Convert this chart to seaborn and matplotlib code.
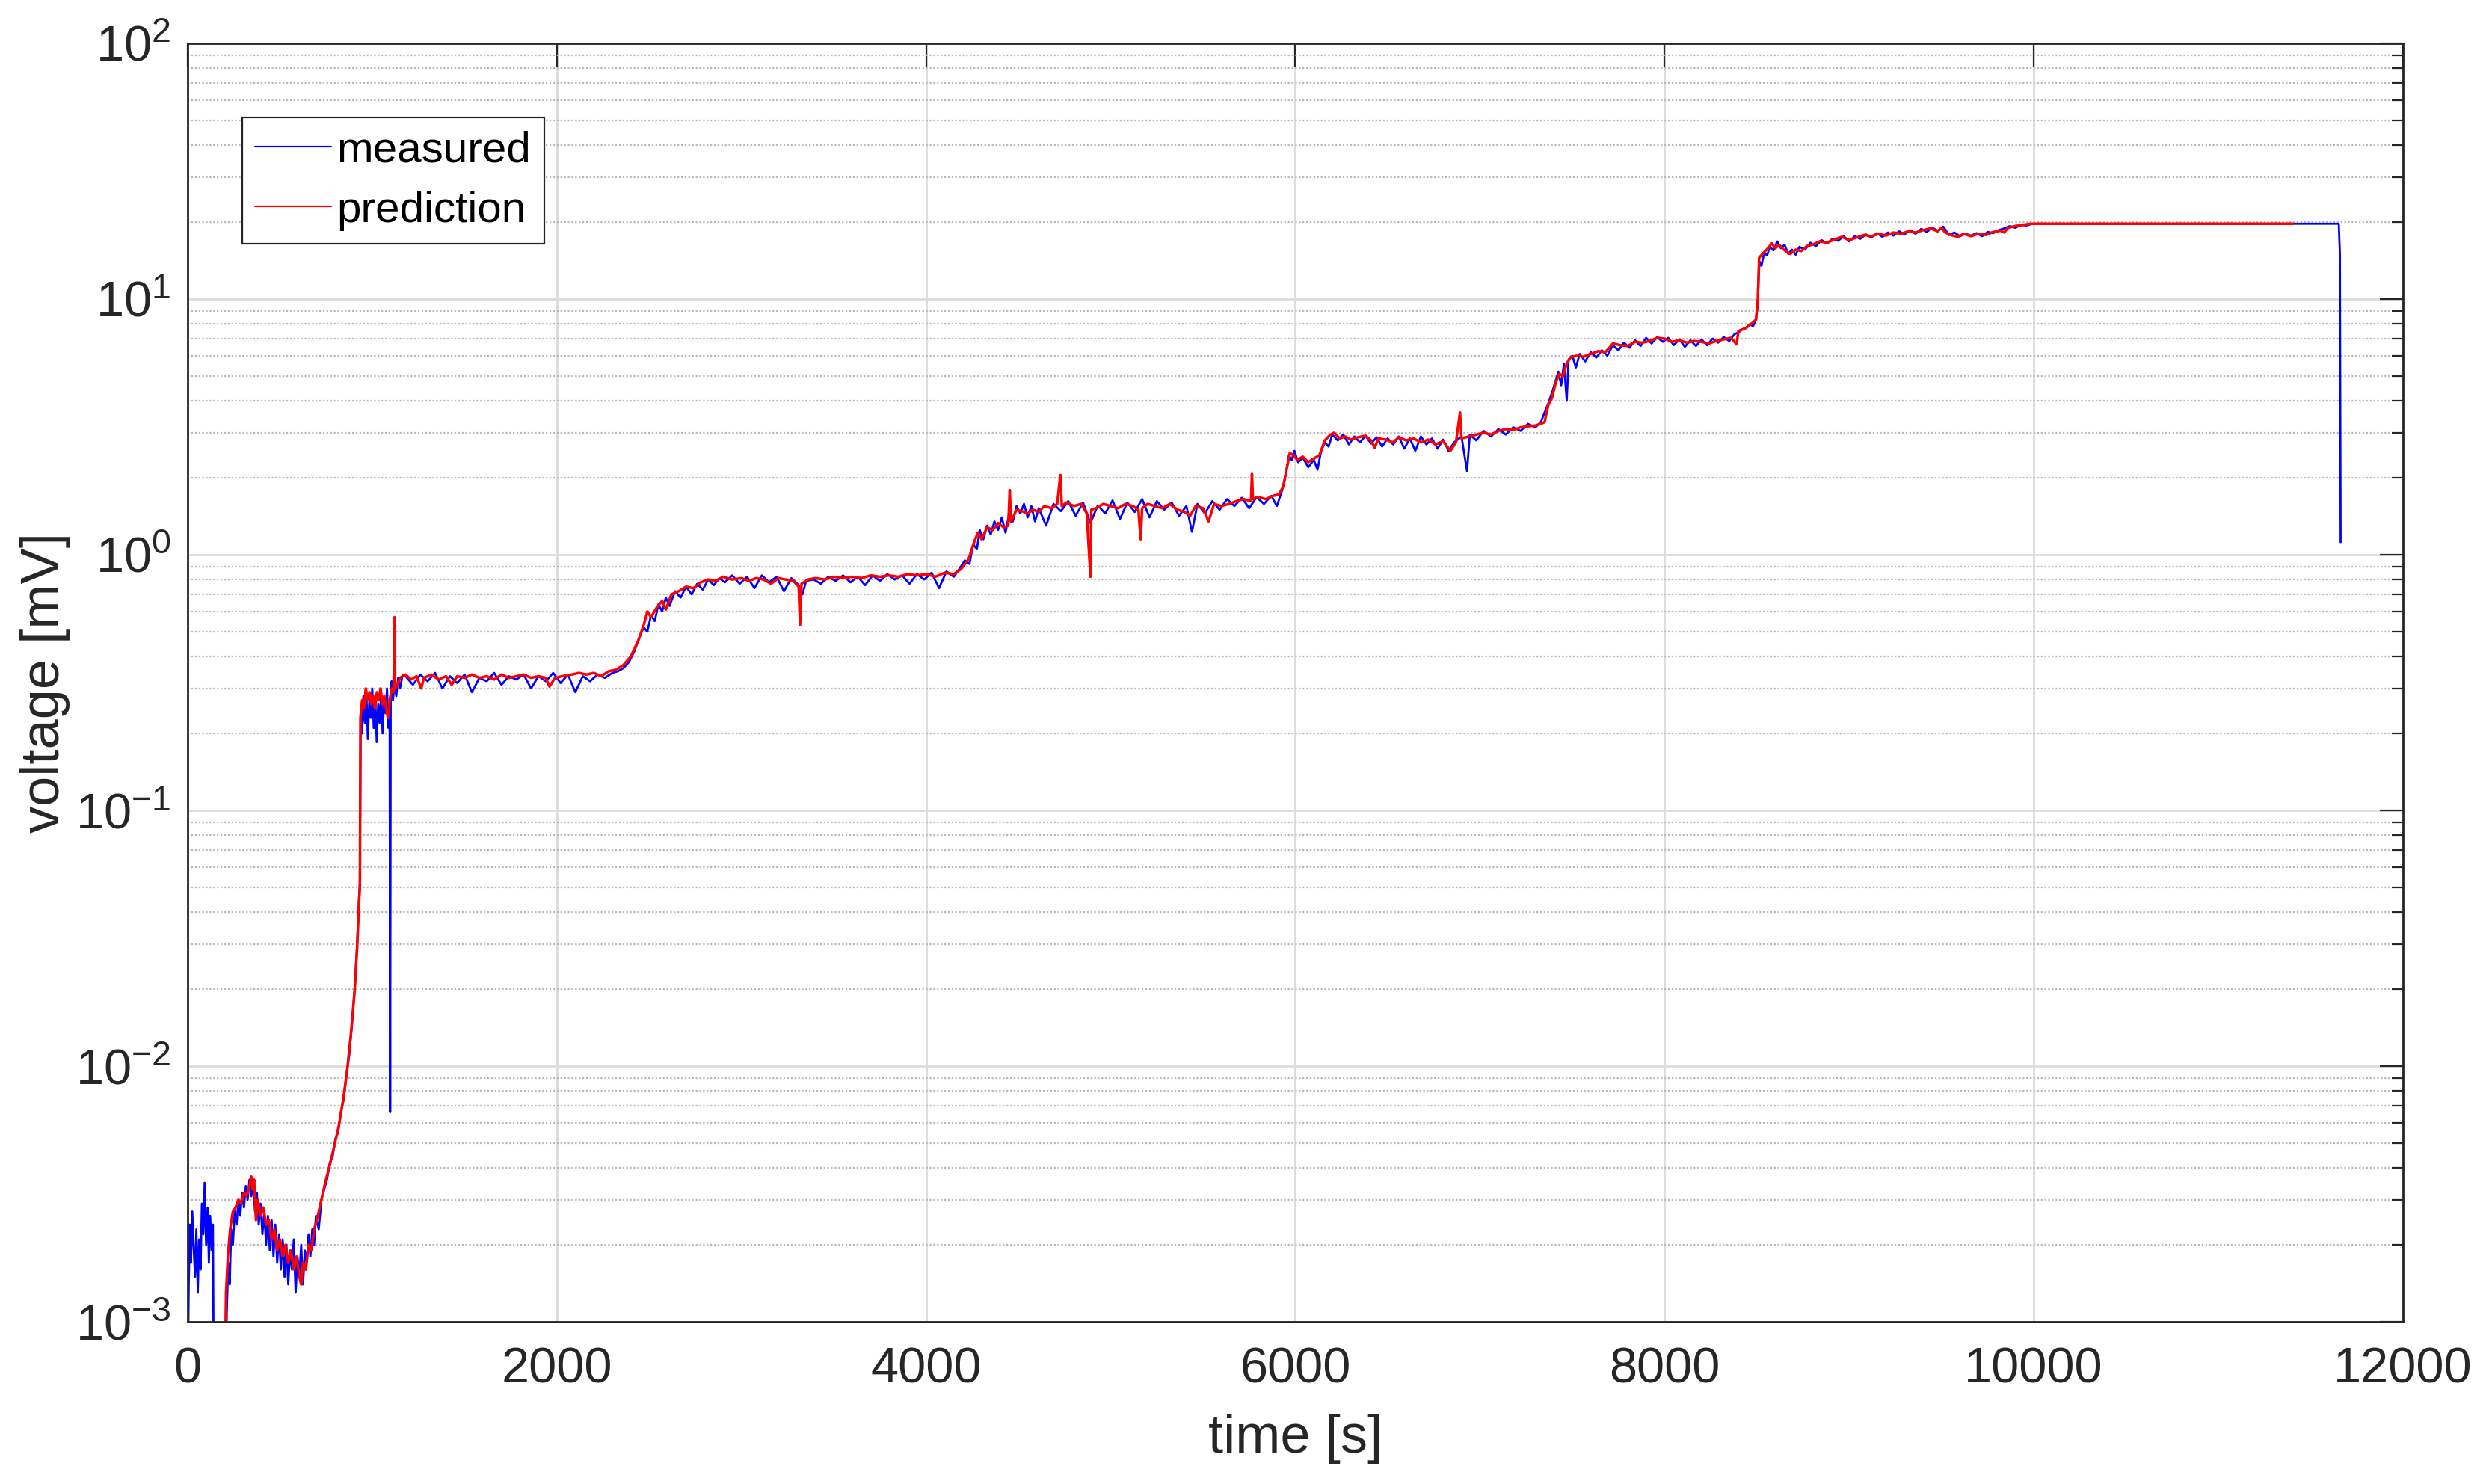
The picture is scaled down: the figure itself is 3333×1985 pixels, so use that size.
import matplotlib
matplotlib.use("Agg")
import matplotlib.pyplot as plt
from matplotlib.ticker import LogLocator, NullFormatter
import seaborn as sns
import pandas as pd

# measured voltage [mV] vs time [s]
measured_time = [
    0, 6, 12, 18, 25, 32, 40, 47, 55, 62, 70, 77, 85, 92, 100, 108, 115, 122, 130, 137, 142,
    205, 212, 220, 228, 236, 245, 255, 265, 275, 285, 295, 305, 315, 325, 335, 345, 355, 365,
    375, 385, 395, 405, 415, 425, 435, 445, 455, 465, 475, 485, 495, 505, 515, 525, 535, 545,
    555, 565, 575, 585, 595, 605, 615, 625, 635, 645, 655, 665, 675, 685, 695, 710, 725, 740,
    755, 770, 785, 800, 815, 830, 845, 860, 875, 890, 905, 918, 928, 933,
    937, 945, 952, 960, 968, 976, 984, 992, 1000, 1008, 1016, 1024, 1032, 1040, 1048, 1056,
    1064, 1072, 1080, 1088, 1094, 1097, 1100, 1105, 1112, 1120, 1130, 1140, 1150, 1165,
    1180, 1220, 1260, 1300, 1340, 1380, 1420, 1460, 1500, 1540, 1580, 1620, 1660, 1700,
    1740, 1780, 1820, 1860, 1900, 1940, 1980, 2020, 2060, 2100, 2140, 2180, 2220, 2260,
    2300, 2330, 2360, 2390, 2420, 2445, 2470, 2490, 2510, 2530, 2550, 2570, 2590, 2610,
    2640, 2670, 2700, 2730, 2760, 2790, 2820, 2850, 2880, 2910,
    2950, 2990, 3030, 3070, 3110, 3150, 3190, 3230, 3270, 3310, 3330, 3350, 3390, 3430,
    3470, 3510, 3550, 3590, 3630, 3670, 3710, 3750, 3790, 3830, 3870, 3910, 3950, 3990,
    4030, 4070, 4110, 4150,
    4180, 4210, 4235, 4255, 4275, 4290, 4310, 4330, 4350, 4370, 4390, 4410, 4430, 4450,
    4470, 4490, 4510, 4530, 4550, 4570, 4590,
    4610, 4650, 4690, 4730, 4770, 4810, 4850, 4890, 4930, 4970, 5010, 5050, 5090, 5130,
    5170, 5210, 5250, 5290, 5330, 5370, 5410, 5440, 5470, 5510, 5550, 5590, 5630, 5670,
    5710, 5750, 5790, 5830, 5870, 5900,
    5930, 5950, 5965, 5980, 5995, 6015, 6040, 6070, 6100, 6120, 6140, 6160, 6180, 6200,
    6230, 6260, 6290, 6320, 6350, 6380, 6410, 6440, 6470, 6500, 6530, 6560, 6590, 6620,
    6650, 6680, 6710, 6740, 6770, 6800, 6830, 6860, 6900, 6930, 6945, 6980, 7020, 7060,
    7100, 7140, 7180, 7220, 7260, 7300, 7330, 7350, 7370, 7390, 7410, 7425, 7440, 7455,
    7470, 7480, 7500, 7520, 7540, 7570, 7600, 7630, 7660, 7690, 7720, 7750, 7780, 7810,
    7840, 7870, 7900, 7930, 7960, 7990, 8020, 8050, 8080, 8110, 8140, 8170, 8200, 8230,
    8260, 8290, 8320, 8350, 8380, 8400, 8420, 8440, 8460, 8480, 8495, 8505, 8510, 8515,
    8525, 8540, 8555, 8570, 8590, 8610, 8630, 8650, 8670, 8690, 8710, 8730, 8760, 8790,
    8820, 8850, 8880, 8910, 8940, 8970, 9000, 9030, 9060, 9090, 9120, 9150, 9180, 9210,
    9240, 9270, 9300, 9330, 9360, 9390, 9420, 9450, 9480, 9510, 9540, 9570, 9600, 9630,
    9660, 9690, 9720, 9750, 9780, 9810, 9840, 9870, 9900, 9930, 9960, 9990, 10020,
    11652, 11658, 11662,
]
measured_mv = [
    0.0005, 0.0014, 0.0024, 0.0017, 0.0027, 0.0020, 0.0015, 0.0023, 0.0013, 0.0021, 0.0016,
    0.0029, 0.0022, 0.0035, 0.0020, 0.0028, 0.0017, 0.0026, 0.0019, 0.0024, 0.0005,
    0.0005, 0.0011, 0.0017, 0.0014, 0.0023, 0.0020, 0.0027, 0.0024, 0.0030, 0.0026, 0.0032,
    0.0028, 0.0034, 0.0030, 0.0036, 0.0031, 0.0035, 0.0027, 0.0032, 0.0024, 0.0029, 0.0022,
    0.0027, 0.0020, 0.0026, 0.0019, 0.0025, 0.0018, 0.0024, 0.0017, 0.0022, 0.0016, 0.0021,
    0.0015, 0.0020, 0.0014, 0.0019, 0.0016, 0.0021, 0.0013, 0.0018, 0.0015, 0.0020, 0.0014,
    0.0019, 0.0017, 0.0022, 0.0018, 0.0023, 0.0020, 0.0026, 0.0023, 0.0030, 0.0033, 0.0036,
    0.0042, 0.0044, 0.0052, 0.0055, 0.0066, 0.0074, 0.0092, 0.0110, 0.0145, 0.020, 0.030,
    0.045, 0.052,
    0.24, 0.20, 0.28, 0.22, 0.29, 0.19, 0.27, 0.23, 0.30, 0.21, 0.28, 0.185, 0.26, 0.22, 0.29,
    0.20, 0.27, 0.24, 0.30, 0.21, 0.25, 0.0066, 0.30, 0.32, 0.27, 0.31, 0.28, 0.33, 0.30, 0.34,
    0.335, 0.31, 0.34, 0.32, 0.345, 0.30, 0.335, 0.315, 0.34, 0.29, 0.33, 0.32, 0.345, 0.31,
    0.335, 0.325, 0.34, 0.30, 0.335, 0.32, 0.345, 0.315, 0.34, 0.29, 0.335, 0.32, 0.34, 0.33,
    0.345, 0.35, 0.36, 0.38, 0.42, 0.47, 0.52, 0.50, 0.58, 0.55, 0.64, 0.60, 0.68, 0.63,
    0.72, 0.68, 0.75, 0.70, 0.77, 0.73, 0.80, 0.76, 0.81, 0.78,
    0.83, 0.77, 0.82, 0.74, 0.83, 0.78, 0.82, 0.72, 0.81, 0.76, 0.70, 0.79, 0.80, 0.77,
    0.82, 0.79, 0.83, 0.78, 0.82, 0.76, 0.83, 0.79, 0.84, 0.80, 0.83, 0.77, 0.84, 0.80,
    0.85, 0.74, 0.86, 0.82,
    0.88, 0.95, 0.92, 1.10, 1.05, 1.25, 1.15, 1.30, 1.20, 1.35, 1.25, 1.40, 1.22, 1.45,
    1.35, 1.55, 1.45, 1.58, 1.40, 1.55, 1.35,
    1.52, 1.30, 1.58, 1.48, 1.62, 1.42, 1.60, 1.33, 1.56, 1.45, 1.63, 1.38, 1.60, 1.47,
    1.65, 1.40, 1.62, 1.50, 1.60, 1.42, 1.55, 1.23, 1.58, 1.45, 1.62, 1.50, 1.65, 1.55,
    1.67, 1.52, 1.68, 1.58, 1.70, 1.55,
    1.80, 2.10, 2.45, 2.35, 2.55, 2.30, 2.40, 2.20, 2.35, 2.15, 2.55, 2.75, 2.65, 2.95,
    2.80, 2.95, 2.70, 2.90, 2.75, 2.92, 2.72, 2.88, 2.65, 2.85, 2.70, 2.90, 2.60, 2.85,
    2.55, 2.90, 2.70, 2.85, 2.60, 2.82, 2.55, 2.75, 2.90, 2.12, 2.95, 2.80, 3.05, 2.90,
    3.10, 2.95, 3.15, 3.05, 3.25, 3.15, 3.30, 3.60, 3.90, 4.30, 4.80, 5.20, 4.60, 5.60,
    4.00, 5.80, 6.00, 5.40, 6.10, 5.70, 6.20, 5.90, 6.30, 6.00, 6.60, 6.30, 6.75, 6.45,
    6.90, 6.55, 7.05, 6.70, 7.10, 6.80, 7.05, 6.60, 6.95, 6.50, 6.90, 6.55, 6.95, 6.60,
    7.00, 6.75, 7.10, 6.85, 7.30, 7.40, 7.60, 7.70, 7.95, 7.85, 8.30, 9.5, 12.5, 14.0,
    13.5, 15.2, 14.8, 16.0, 15.5, 16.8, 15.8, 16.3, 15.0, 15.6, 14.9, 16.0, 15.6, 16.6,
    16.1, 17.0, 16.5, 17.2, 16.9, 17.6, 16.8, 17.6, 17.2, 17.9, 17.4, 18.1, 17.5, 18.2,
    17.7, 18.4, 17.9, 18.6, 18.0, 18.8, 18.3, 19.0, 18.5, 19.2, 17.8, 18.2, 17.6, 18.0,
    17.7, 18.1, 17.6, 18.3, 18.1, 18.6, 18.9, 19.3, 19.0, 19.5, 19.4, 19.7, 19.7,
    19.7, 15.0, 1.12,
]

# model prediction [mV] vs time [s]
prediction_time = [
    200, 208, 218, 230, 245, 260, 275, 290, 305, 320, 335, 345, 352, 360, 370, 380, 395,
    410, 425, 440, 455, 470, 485, 500, 515, 530, 545, 560, 575, 590, 605, 615, 625, 640,
    655, 670, 685, 700, 720, 745, 770, 795, 820, 845, 865, 885, 905, 918, 928, 933,
    936, 945, 955, 965, 975, 985, 995, 1005, 1015, 1025, 1035, 1045, 1055, 1065, 1075,
    1085, 1095, 1105, 1115, 1119, 1121, 1124, 1135, 1150, 1180, 1210, 1240, 1265, 1280,
    1320, 1360, 1400, 1430, 1460, 1500, 1540, 1580, 1620, 1660, 1700, 1740, 1780, 1820,
    1860, 1900, 1940, 1960, 1990, 2030, 2080, 2120, 2160, 2200, 2240, 2280, 2320, 2360,
    2400, 2440, 2470, 2490, 2510, 2540, 2570, 2590, 2620, 2660, 2700, 2740, 2780, 2820,
    2860, 2900, 2950, 3000, 3040, 3080, 3120, 3160, 3200, 3240, 3280, 3310, 3317, 3325,
    3360, 3400, 3450, 3500, 3550, 3600, 3650, 3700, 3750, 3800, 3850, 3900, 3950, 4000,
    4050, 4100, 4150, 4190, 4230, 4260, 4280, 4300, 4330, 4360, 4390, 4420, 4445, 4453,
    4460, 4490, 4520, 4550, 4580, 4610, 4640, 4680, 4710, 4727, 4735, 4760, 4800, 4840,
    4870, 4890, 4895, 4920, 4960, 5000, 5040, 5080, 5120, 5150, 5162, 5170, 5200, 5240,
    5280, 5320, 5360, 5400, 5430, 5460, 5500, 5530, 5560, 5600, 5640, 5680, 5720, 5760,
    5765, 5770, 5800, 5840, 5880, 5910, 5935, 5955, 5970, 5990, 6010, 6040, 6070, 6100,
    6130, 6160, 6190, 6210, 6240, 6270, 6300, 6340, 6380, 6410, 6430, 6450, 6490, 6530,
    6560, 6600, 6640, 6680, 6720, 6760, 6800, 6840, 6870, 6892, 6900, 6940, 6980, 7020,
    7060, 7100, 7140, 7180, 7220, 7260, 7300, 7330, 7350, 7370, 7390, 7410, 7430, 7450,
    7470, 7490, 7520, 7560, 7600, 7640, 7680, 7720, 7760, 7800, 7840, 7880, 7920, 7960,
    8000, 8040, 8080, 8120, 8160, 8200, 8240, 8280, 8320, 8360, 8390, 8400, 8440, 8470,
    8495, 8505, 8512, 8530, 8560, 8580, 8600, 8620, 8650, 8680, 8710, 8740, 8770, 8800,
    8840, 8880, 8920, 8960, 9000, 9040, 9080, 9120, 9160, 9200, 9240, 9280, 9320, 9360,
    9400, 9440, 9480, 9500, 9520, 9550, 9590, 9620, 9660, 9700, 9740, 9780, 9820, 9840,
    9860, 9900, 9940, 9980, 10000, 11404,
]
prediction_mv = [
    0.0005, 0.0013, 0.0018, 0.0023, 0.0027, 0.0028, 0.0030, 0.0029, 0.0032, 0.0031, 0.0034,
    0.0037, 0.0033, 0.0036, 0.0025, 0.0030, 0.0026, 0.0028, 0.0024, 0.0025, 0.0021, 0.0023,
    0.0019, 0.0021, 0.0018, 0.0020, 0.0017, 0.0019, 0.0016, 0.0018, 0.0015, 0.0014, 0.0017,
    0.0016, 0.0020, 0.0019, 0.0023, 0.0025, 0.0029, 0.0035, 0.0041, 0.0049, 0.0059, 0.0076,
    0.0098, 0.0135, 0.020, 0.029, 0.043, 0.050,
    0.23, 0.27, 0.25, 0.30, 0.27, 0.29, 0.26, 0.28, 0.25, 0.29, 0.27, 0.30, 0.26, 0.28, 0.25,
    0.23, 0.27, 0.30, 0.29, 0.45, 0.57, 0.30, 0.31, 0.33, 0.34, 0.325, 0.335, 0.30, 0.33,
    0.34, 0.325, 0.335, 0.31, 0.335, 0.33, 0.34, 0.33, 0.335, 0.325, 0.34, 0.33, 0.335, 0.34,
    0.33, 0.335, 0.33, 0.305, 0.33, 0.335, 0.34, 0.345, 0.34, 0.345, 0.335, 0.35, 0.355, 0.37,
    0.40, 0.46, 0.53, 0.60, 0.57, 0.62, 0.66, 0.61, 0.70, 0.72, 0.75, 0.74, 0.78, 0.80,
    0.79, 0.82, 0.80, 0.81, 0.79, 0.81, 0.80, 0.77, 0.81, 0.80, 0.79, 0.75, 0.53, 0.77,
    0.80, 0.81, 0.80, 0.82, 0.81, 0.82, 0.81, 0.83, 0.82, 0.83, 0.82, 0.84, 0.83, 0.84,
    0.82, 0.85, 0.84, 0.88, 0.96, 1.12, 1.22, 1.15, 1.28, 1.25, 1.33, 1.28, 1.30, 1.79,
    1.35, 1.50, 1.48, 1.45, 1.50, 1.47, 1.55, 1.52, 1.58, 2.05, 1.55, 1.60, 1.55, 1.58,
    1.45, 0.82, 1.50, 1.52, 1.58, 1.55, 1.52, 1.58, 1.55, 1.50, 1.15, 1.52, 1.58, 1.55,
    1.52, 1.58, 1.50, 1.47, 1.42, 1.55, 1.52, 1.35, 1.58, 1.55, 1.58, 1.62, 1.65, 1.62,
    2.07, 1.65, 1.68, 1.65, 1.70, 1.72, 1.85, 2.20, 2.50, 2.45, 2.35, 2.42, 2.30, 2.38,
    2.45, 2.80, 2.95, 3.00, 2.85, 2.90, 2.82, 2.88, 2.92, 2.80, 2.62, 2.85, 2.82, 2.75,
    2.88, 2.80, 2.85, 2.75, 2.82, 2.70, 2.78, 2.55, 2.75, 3.60, 2.85, 2.90, 2.95, 3.00,
    2.95, 3.05, 3.10, 3.08, 3.15, 3.18, 3.20, 3.25, 3.30, 3.85, 4.10, 4.70, 5.10, 5.00,
    5.60, 5.90, 6.00, 5.95, 6.10, 6.25, 6.20, 6.70, 6.60, 6.55, 6.80, 6.75, 6.85, 7.05,
    7.00, 6.80, 6.90, 6.75, 6.85, 6.80, 6.70, 6.85, 6.95, 7.05, 6.65, 7.50, 7.70, 8.00,
    8.30, 10.0, 14.5, 15.0, 15.8, 16.5, 15.8, 16.3, 15.5, 15.0, 15.6, 15.4, 16.1, 16.3,
    16.8, 16.6, 17.1, 17.5, 17.0, 17.4, 17.8, 17.6, 18.0, 17.7, 18.2, 18.0, 18.4, 18.2,
    18.6, 18.9, 18.4, 19.0, 18.2, 17.8, 17.5, 18.0, 17.6, 18.0, 17.8, 18.3, 18.5, 18.2,
    19.0, 19.3, 19.5, 19.7, 19.7, 19.7,
]

x_ticks = [0, 2000, 4000, 6000, 8000, 10000, 12000]

measured = pd.DataFrame({"time": measured_time, "voltage": measured_mv})
prediction = pd.DataFrame({"time": prediction_time, "voltage": prediction_mv})

sns.set_theme(style="white")
plt.rcParams["font.family"] = ["Liberation Sans", "DejaVu Sans"]
plt.rcParams["mathtext.fontset"] = "custom"
plt.rcParams["mathtext.rm"] = "Liberation Sans"

dark = "#262626"
fig = plt.figure(figsize=(16.665, 9.925), dpi=200)
ax = fig.add_axes([0.0753, 0.1093, 0.889, 0.8615])

sns.lineplot(data=measured, x="time", y="voltage", color="blue", linewidth=1.0,
             estimator=None, sort=False, label="measured", ax=ax)
sns.lineplot(data=prediction, x="time", y="voltage", color="red", linewidth=1.25,
             estimator=None, sort=False, label="prediction", ax=ax)

ax.set_yscale("log")
ax.set_xlim(0, 12000)
ax.set_ylim(1e-3, 1e2)
ax.set_xticks(x_ticks)
ax.yaxis.set_major_locator(LogLocator(base=10, numticks=10))
ax.yaxis.set_minor_locator(LogLocator(base=10, subs=range(2, 10), numticks=50))
ax.yaxis.set_minor_formatter(NullFormatter())

# matlab-ish grid: solid major, dotted minor
ax.set_axisbelow(True)
ax.grid(which="major", color="#dcdcdc", linewidth=1.0, linestyle="-")
ax.grid(which="minor", axis="y", color="#b8b8b8", linewidth=0.8, linestyle=(0, (1, 1.2)))

ax.tick_params(which="both", direction="in", top=True, right=True, colors=dark,
               labelcolor=dark, labelsize=24)
ax.tick_params(which="major", length=11, width=0.8)
ax.tick_params(which="minor", length=5.5, width=0.8)
ax.tick_params(axis="x", pad=12)
ax.tick_params(axis="y", pad=8)
for s in ax.spines.values():
    s.set_color(dark)
    s.set_linewidth(1.0)

ax.set_xlabel("time [s]", fontsize=26, color=dark)
ax.set_ylabel("voltage [mV]", fontsize=26, color=dark)
ax.xaxis.set_label_coords(0.5, -0.072)
ax.yaxis.set_label_coords(-0.053, 0.5)

leg = ax.legend(loc="upper left", bbox_to_anchor=(0.0246, 0.942), borderaxespad=0,
                fontsize=21, fancybox=False, framealpha=1, edgecolor=dark,
                borderpad=0.3, labelspacing=0.45, handlelength=1.75, handletextpad=0.12)
leg.get_frame().set_linewidth(0.8)
for line in leg.get_lines():
    line.set_linewidth(0.8)
for t in leg.get_texts():
    t.set_color("black")

fig.savefig("out.png", dpi=200)
